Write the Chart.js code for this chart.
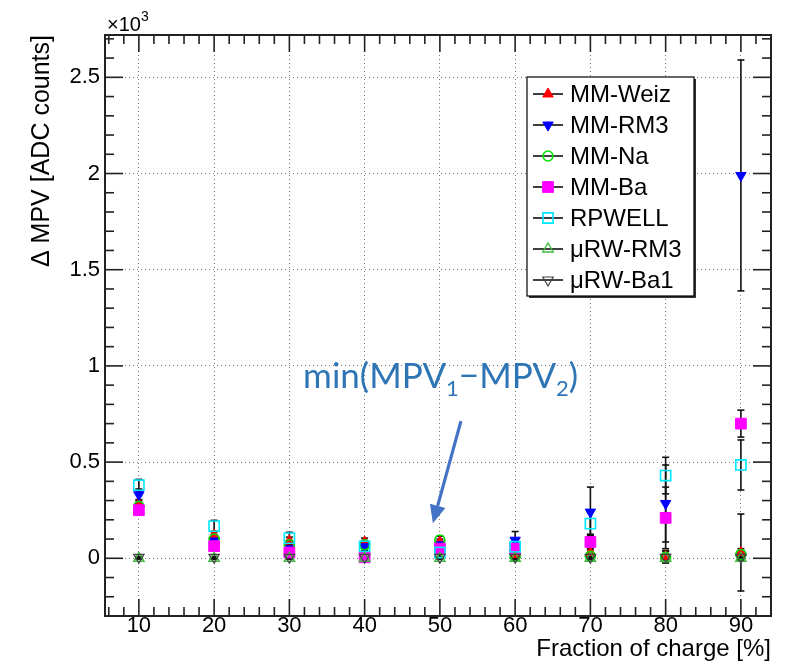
<!DOCTYPE html>
<html>
<head>
<meta charset="utf-8">
<title>Delta MPV vs fraction of charge</title>
<script src="https://cdn.jsdelivr.net/npm/chart.js@4.4.1/dist/chart.umd.min.js"></script>
<style>
    html, body { margin: 0; padding: 0; background: #fff; }
    #wrap { width: 787px; height: 669px; }
</style>
</head>
<body>
<div id="wrap"><canvas id="mpvChart" width="787" height="669"></canvas></div>
<script>
(function () {
    'use strict';

    // fraction of charge [%]
    var fractions = [10, 20, 30, 40, 50, 60, 70, 80, 90];

    // delta MPV in units of 10^3 ADC counts, with symmetric errors
    var mmWeiz     = [0.285, 0.12, 0.09, 0.085, 0.085, 0.02, 0.03, 0.01, 0.03];
    var mmWeizErr  = [0.02, 0.02, 0.02, 0.02, 0.015, 0.02, 0.02, 0.03, 0.2];
    var mmRm3      = [0.33, 0.09, 0.05, 0.06, 0.07, 0.094, 0.24, 0.285, 1.99];
    var mmRm3Err   = [0.03, 0.02, 0.02, 0.02, 0.02, 0.045, 0.13, 0.2, 0.6];
    var mmNa       = [0.27, 0.1, 0.07, 0.07, 0.095, 0.01, 0.01, 0.005, 0.02];
    var mmNaErr    = [0.02, 0.02, 0.02, 0.02, 0.02, 0.02, 0.02, 0.03, 0.03];
    var mmBa       = [0.25, 0.063, 0.03, 0.005, 0.05, 0.05, 0.085, 0.21, 0.7];
    var mmBaErr    = [0.02, 0.02, 0.02, 0.02, 0.02, 0.03, 0.04, 0.16, 0.07];
    var rpwell     = [0.38, 0.167, 0.105, 0.062, 0.03, 0.06, 0.18, 0.43, 0.485];
    var rpwellErr  = [0.03, 0.03, 0.03, 0.03, 0.03, 0.04, 0.06, 0.095, 0.13];
    var urwRm3     = [0, 0, 0, 0, 0, 0, 0, 0, 0];
    var urwRm3Err  = [0.005, 0.005, 0.005, 0.005, 0.005, 0.005, 0.005, 0.005, 0.005];
    var urwBa1     = [0.005, 0.005, 0.005, 0.005, 0.005, 0.005, 0.005, 0.005, 0.005];
    var urwBa1Err  = [0.005, 0.005, 0.005, 0.005, 0.005, 0.005, 0.005, 0.005, 0.005];

    var FONT = '"Liberation Sans", Arial, Helvetica, sans-serif';

    function points(ys) {
        return fractions.map(function (x, i) { return { x: x, y: ys[i] }; });
    }

    function series(label, ys, errs, style) {
        return {
            label: label,
            data: points(ys),
            errors: errs,
            pointStyle: style.shape,
            rotation: style.rotation || 0,
            pointRadius: style.radius,
            pointHoverRadius: style.radius,
            pointBackgroundColor: style.fill,
            pointBorderColor: style.color,
            pointBorderWidth: style.width || 1,
            showLine: false
        };
    }

    var datasets = [
        series('MM-Weiz', mmWeiz, mmWeizErr, { shape: 'triangle', radius: 6, color: '#ff0000', fill: '#ff0000' }),
        series('MM-RM3', mmRm3, mmRm3Err, { shape: 'triangle', rotation: 180, radius: 6, color: '#0000ff', fill: '#0000ff' }),
        series('MM-Na', mmNa, mmNaErr, { shape: 'circle', radius: 5, color: '#00e000', fill: 'rgba(0,0,0,0)', width: 1.6 }),
        series('MM-Ba', mmBa, mmBaErr, { shape: 'rect', radius: 7.6, color: '#ff00ff', fill: '#ff00ff' }),
        series('RPWELL', rpwell, rpwellErr, { shape: 'rect', radius: 7.2, color: '#00e8ff', fill: 'rgba(0,0,0,0)', width: 1.6 }),
        series('\u03bcRW-RM3', urwRm3, urwRm3Err, { shape: 'triangle', radius: 6, color: '#44bb44', fill: 'rgba(0,0,0,0)', width: 1.4 }),
        series('\u03bcRW-Ba1', urwBa1, urwBa1Err, { shape: 'triangle', rotation: 180, radius: 6, color: '#444444', fill: 'rgba(0,0,0,0)', width: 1.2 })
    ];
    // later graphs are painted on top
    datasets.forEach(function (ds, i) { ds.order = -i; });

    function line(ctx, x1, y1, x2, y2) {
        ctx.beginPath();
        ctx.moveTo(x1, y1);
        ctx.lineTo(x2, y2);
        ctx.stroke();
    }

    var errorBars = {
        id: 'errorBars',
        beforeDatasetsDraw: function (chart) {
            var ctx = chart.ctx, a = chart.chartArea;
            var xs = chart.scales.x, ys = chart.scales.y;
            ctx.save();
            ctx.beginPath();
            ctx.rect(a.left, a.top, a.right - a.left, a.bottom - a.top);
            ctx.clip();
            ctx.strokeStyle = '#111';
            ctx.lineWidth = 1.6;
            chart.data.datasets.forEach(function (ds) {
                ds.data.forEach(function (p, i) {
                    var e = ds.errors[i];
                    var px = xs.getPixelForValue(p.x);
                    var top = ys.getPixelForValue(p.y + e);
                    var bot = ys.getPixelForValue(p.y - e);
                    line(ctx, px, top, px, bot);
                    line(ctx, px - 3.5, top, px + 3.5, top);
                    line(ctx, px - 3.5, bot, px + 3.5, bot);
                });
            });
            ctx.restore();
        }
    };

    var frameTicks = {
        id: 'frameTicks',
        afterDatasetsDraw: function (chart) {
            var ctx = chart.ctx, a = chart.chartArea;
            var xs = chart.scales.x, ys = chart.scales.y;
            var v, k, p, len;
            ctx.save();
            ctx.strokeStyle = '#222';
            ctx.lineWidth = 1.6;
            for (v = 6; v <= 94; v += 2) {
                p = xs.getPixelForValue(v);
                len = (v % 10 === 0) ? 17 : 9;
                line(ctx, p, a.bottom, p, a.bottom - len);
                line(ctx, p, a.top, p, a.top + len);
            }
            for (k = -3; k <= 27; k++) {
                p = ys.getPixelForValue(k / 10);
                len = (k % 5 === 0) ? 18 : 9;
                line(ctx, a.left, p, a.left + len, p);
                line(ctx, a.right, p, a.right - len, p);
            }
            ctx.lineWidth = 2;
            ctx.strokeRect(a.left, a.top, a.right - a.left, a.bottom - a.top);

            // exponent of the y axis
            ctx.fillStyle = '#000';
            ctx.textBaseline = 'alphabetic';
            ctx.textAlign = 'left';
            ctx.font = '20px ' + FONT;
            ctx.fillText('\u00d710', a.left + 2, a.top - 4);
            var w = ctx.measureText('\u00d710').width;
            ctx.font = '14px ' + FONT;
            ctx.fillText('3', a.left + 2 + w, a.top - 14);
            ctx.restore();
        }
    };

    var boxLegend = {
        id: 'boxLegend',
        afterDraw: function (chart) {
            var ctx = chart.ctx, a = chart.chartArea;
            var x0 = a.left + 422, y0 = 77, w = 167, h = 219, row = 31;
            ctx.save();
            ctx.fillStyle = '#fff';
            ctx.fillRect(x0, y0, w, h);
            ctx.fillStyle = '#333';
            ctx.fillRect(x0 + 2, y0 + h, w, 2);
            ctx.fillRect(x0 + w, y0 + 2, 2, h);
            ctx.strokeStyle = '#000';
            ctx.lineWidth = 1.2;
            ctx.strokeRect(x0, y0, w, h);
            ctx.font = '24px ' + FONT;
            ctx.textBaseline = 'middle';
            ctx.textAlign = 'left';
            chart.data.datasets.forEach(function (ds, i) {
                var cy = y0 + 17 + i * row;
                ctx.strokeStyle = '#111';
                ctx.lineWidth = 1.6;
                line(ctx, x0 + 6, cy, x0 + 36, cy);
                ctx.fillStyle = ds.pointBackgroundColor;
                ctx.strokeStyle = ds.pointBorderColor;
                ctx.lineWidth = ds.pointBorderWidth;
                Chart.helpers.drawPoint(ctx, {
                    pointStyle: ds.pointStyle,
                    rotation: ds.rotation,
                    radius: ds.pointRadius,
                    borderWidth: ds.pointBorderWidth
                }, x0 + 21, cy);
                ctx.fillStyle = '#000';
                ctx.fillText(ds.label, x0 + 43, cy + 1);
            });
            ctx.restore();
        }
    };

    // note and arrow, placed in data units
    var noteText = { x: 50.1, y: 0.94 };
    var arrowFrom = { x: 52.8, y: 0.713 };
    var arrowTo = { x: 49.07, y: 0.182 };

    var note = {
        id: 'note',
        afterDraw: function (chart) {
            var ctx = chart.ctx, xs = chart.scales.x, ys = chart.scales.y;
            var big = '35px Lato, "Noto Sans", sans-serif';
            var small = '22px Lato, "Noto Sans", sans-serif';
            var parts = [['min(MPV', big, 0], ['1', small, 8], ['\u2212MPV', big, 0], ['2', small, 8], [')', big, 0]];
            ctx.save();
            ctx.fillStyle = '#2e75b6';
            ctx.textBaseline = 'alphabetic';
            ctx.textAlign = 'left';
            var total = 0;
            parts.forEach(function (p) { ctx.font = p[1]; total += ctx.measureText(p[0]).width; });
            var cx = xs.getPixelForValue(noteText.x) - total / 2;
            var base = ys.getPixelForValue(noteText.y) + 11;
            parts.forEach(function (p) {
                ctx.font = p[1];
                ctx.fillText(p[0], cx, base + p[2]);
                cx += ctx.measureText(p[0]).width;
            });

            var x1 = xs.getPixelForValue(arrowFrom.x), y1 = ys.getPixelForValue(arrowFrom.y);
            var x2 = xs.getPixelForValue(arrowTo.x), y2 = ys.getPixelForValue(arrowTo.y);
            var ang = Math.atan2(y2 - y1, x2 - x1);
            var head = 18, half = 8;
            var bx = x2 - head * Math.cos(ang), by = y2 - head * Math.sin(ang);
            ctx.strokeStyle = '#4472c4';
            ctx.fillStyle = '#4472c4';
            ctx.lineWidth = 3.2;
            line(ctx, x1, y1, bx, by);
            ctx.beginPath();
            ctx.moveTo(x2, y2);
            ctx.lineTo(bx + half * Math.sin(ang), by - half * Math.cos(ang));
            ctx.lineTo(bx - half * Math.sin(ang), by + half * Math.cos(ang));
            ctx.closePath();
            ctx.fill();
            ctx.restore();
        }
    };

    new Chart(document.getElementById('mpvChart'), {
        type: 'scatter',
        data: { datasets: datasets },
        plugins: [errorBars, frameTicks, boxLegend, note],
        options: {
            responsive: false,
            animation: false,
            events: [],
            layout: { padding: { top: 35, right: 16, left: 0, bottom: 0 } },
            plugins: {
                legend: { display: false },
                tooltip: { enabled: false }
            },
            scales: {
                x: {
                    type: 'linear',
                    min: 5.5,
                    max: 94,
                    afterFit: function (scale) { scale.height = 53; },
                    ticks: {
                        stepSize: 10,
                        includeBounds: false,
                        padding: -3,
                        maxRotation: 0,
                        color: '#000',
                        font: { family: FONT, size: 22 }
                    },
                    grid: { color: '#777', lineWidth: 1, drawTicks: false },
                    border: { display: false, dash: [1, 3] },
                    title: {
                        display: true,
                        text: 'Fraction of charge [%]',
                        align: 'end',
                        color: '#000',
                        font: { family: FONT, size: 24 },
                        padding: { top: 0, bottom: 5 }
                    }
                },
                y: {
                    type: 'linear',
                    min: -0.3,
                    max: 2.72,
                    afterFit: function (scale) { scale.width = 105; },
                    ticks: {
                        stepSize: 0.5,
                        includeBounds: false,
                        padding: 5,
                        color: '#000',
                        font: { family: FONT, size: 22 },
                        callback: function (v) { return String(Math.round(v * 10) / 10); }
                    },
                    grid: { color: '#777', lineWidth: 1, drawTicks: false },
                    border: { display: false, dash: [1, 3] },
                    title: {
                        display: true,
                        text: '\u0394 MPV [ADC counts]',
                        align: 'end',
                        color: '#000',
                        font: { family: FONT, size: 25 },
                        padding: { top: 27, bottom: 0 }
                    }
                }
            }
        }
    });
})();
</script>
</body>
</html>
